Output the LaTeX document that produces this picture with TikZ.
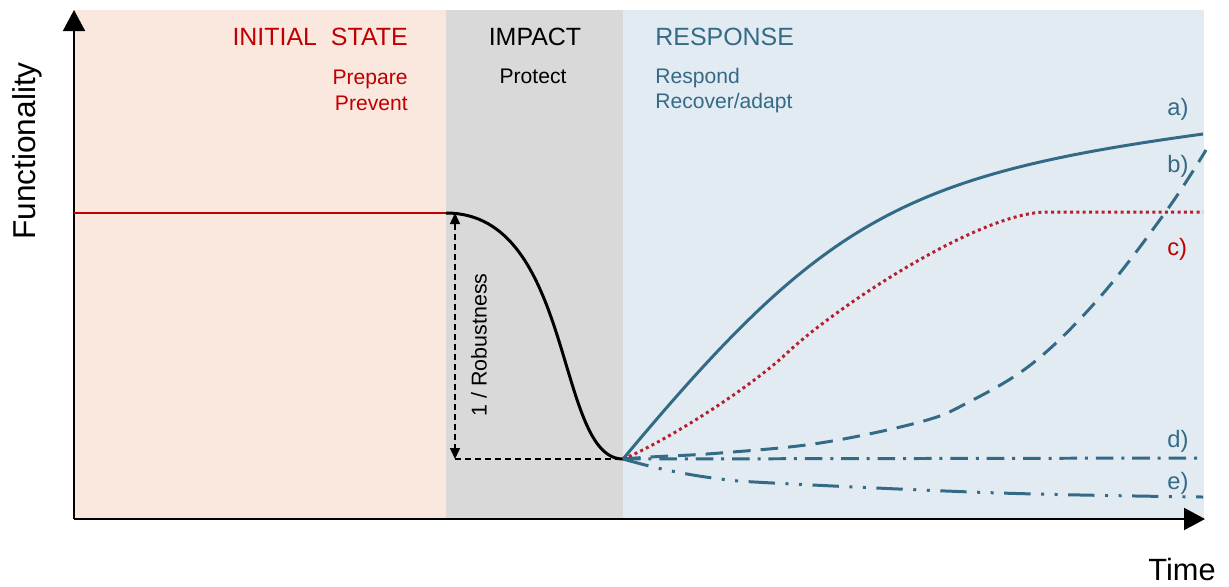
\documentclass[tikz,border=0pt]{standalone}
\usepackage{fontspec}
\setmainfont{Liberation Sans}
\usetikzlibrary{arrows.meta}

\definecolor{pinkbg}{HTML}{FAE8DF}
\definecolor{graybg}{HTML}{D9D9D9}
\definecolor{bluebg}{HTML}{E3EBF2}
\definecolor{respblue}{HTML}{336B87}
\definecolor{initred}{HTML}{C00000}
\definecolor{dotred}{HTML}{B5202E}

\begin{document}
\begin{tikzpicture}[x=0.02cm, y=-0.02cm,
    title/.style={font=\fontsize{14.2}{17}\selectfont},
    sub/.style={font=\fontsize{12}{14}\selectfont},
    lbl/.style={font=\fontsize{13.5}{16}\selectfont, text=respblue, anchor=base west, inner sep=0pt},
    curve/.style={line width=1.7pt, respblue},
    axisline/.style={line width=1.1pt, -{Triangle[length=0.42cm, width=0.44cm]}}]
    \useasboundingbox (0,0) rectangle (1229,586);

    % phases
    \fill[pinkbg] (74,10) rectangle (446,519);
    \fill[graybg] (446,10) rectangle (623,519);
    \fill[bluebg] (623,10) rectangle (1204,519);

    \node[title, text=initred, anchor=base east, inner sep=0pt] (initial) at (408,45) {INITIAL\ \ STATE};
    \node[sub, text=initred, anchor=base east, inner sep=0pt] (prepare) at (408,84) {Prepare};
    \node[sub, text=initred, anchor=base east, inner sep=0pt] (prevent) at (408,110) {Prevent};

    \node[title, anchor=base, inner sep=0pt] (impact) at (535,45) {IMPACT};
    \node[sub, anchor=base, inner sep=0pt] (protect) at (533,83) {Protect};

    \node[title, text=respblue, anchor=base west, inner sep=0pt] (response) at (655,45) {RESPONSE};
    \node[sub, text=respblue, anchor=base west, inner sep=0pt] (respond) at (655,83) {Respond};
    \node[sub, text=respblue, anchor=base west, inner sep=0pt] (recover) at (655,108) {Recover/adapt};

    % axes
    \coordinate (origin) at (74,519);
    \coordinate (ytop) at (74,10);
    \coordinate (xend) at (1205,519);
    \draw[axisline] (origin) -- (ytop);
    \draw[axisline] (origin) -- (xend);
    \node[font=\fontsize{18}{21}\selectfont, rotate=90, anchor=base, inner sep=0pt] (func) at (35,151) {Functionality};
    \node[font=\fontsize{17.5}{20}\selectfont, anchor=base, inner sep=0pt] (time) at (1182,580) {Time};

    % initial state and impact
    \coordinate (hit) at (446,213);
    \coordinate (low) at (623,459);
    \draw[line width=1.4pt, initred] (origin |- hit) -- (hit);
    \draw[line width=1.7pt] (hit) .. controls (575,213) and (555,459) .. (low);

    \coordinate (rtop) at (455,213);
    \coordinate (rbot) at (455,459);
    \draw[line width=0.8pt, dash pattern=on 3.4pt off 2.3pt, {Triangle[length=0.22cm, width=0.2cm]}-{Triangle[length=0.22cm, width=0.2cm]}] (rtop) -- (rbot);
    \draw[line width=0.8pt, dash pattern=on 3.4pt off 2.3pt] (rbot) -- (low);
    \node[font=\fontsize{12.2}{14}\selectfont, rotate=90] (robust) at (479,345) {1 / Robustness};

    % responses
    \coordinate (aend) at (1203,134);
    \coordinate (bend) at (1206,150);
    \coordinate (cend) at (1203,212);
    \coordinate (dend) at (1203,458);
    \coordinate (eend) at (1203,497);
    \draw[curve] (low) .. controls (823,219) and (903,175) .. (aend);
    \draw[curve, dash pattern=on 10pt off 5.7pt] plot[smooth, tension=0.6] coordinates {(low) (650,457) (720,453) (820,443) (920,422) (967,403) (1033,363) (1100,297) (1167,210) (bend)};
    \draw[line width=1.7pt, dotred, dash pattern=on 1.7pt off 1.9pt] (low) .. controls (665,442) and (750,388) .. (787,353)
        .. controls (837,306) and (980,212) .. (1047,212) -- (cend);
    \draw[curve, dash pattern=on 10pt off 4.5pt on 1.7pt off 4.5pt] (low) -- (dend);
    \draw[curve, dash pattern=on 15pt off 6pt on 1.7pt off 6pt on 1.7pt off 6pt] plot[smooth, tension=0.6] coordinates {(low) (662,469) (713,478) (773,483) (1000,493) (eend)};

    \node[lbl] (la) at (1167,115) {a)};
    \node[lbl] (lb) at (1167,172) {b)};
    \node[lbl, text=initred] (lc) at (1167,255) {c)};
    \node[lbl] (ld) at (1167,447) {d)};
    \node[lbl] (le) at (1167,489) {e)};
\end{tikzpicture}
\end{document}
